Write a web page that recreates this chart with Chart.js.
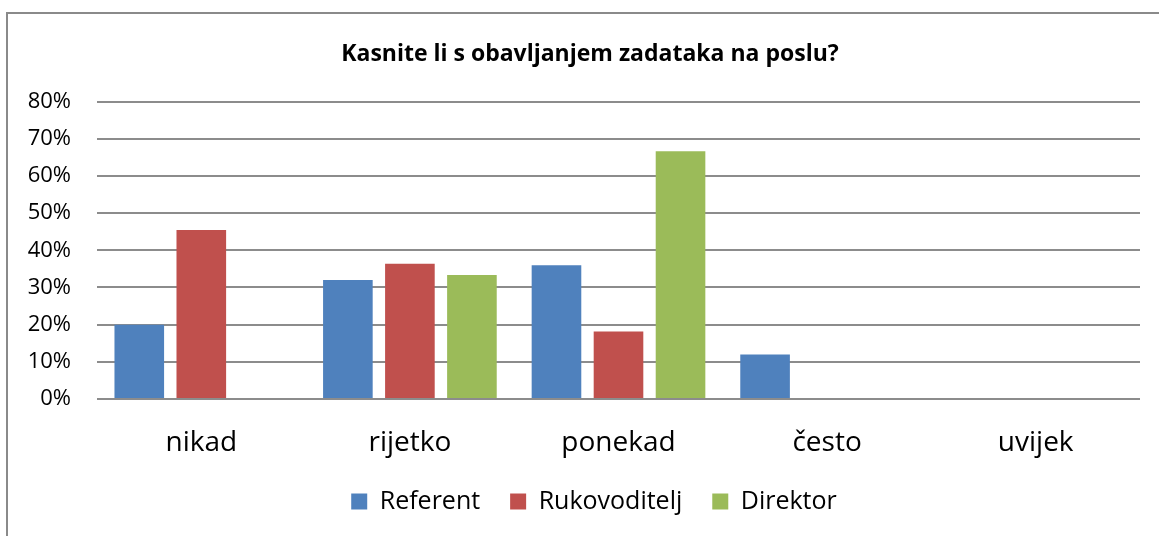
<!DOCTYPE html>
<html lang="hr">
<head>
    <meta charset="UTF-8">
    <title>Kasnite li s obavljanjem zadataka na poslu?</title>
    <style>
        body {
            margin: 0;
            padding: 0;
            background-color: #ffffff;
            overflow: hidden;
        }

        /* okvir grafikona kao u Excelu */
        .frame {
            position: absolute;
            left: 6px;
            top: 12px;
            width: 1200px;
            height: 600px;
            border: 2px solid #8a8a8a;
        }

        .chart-box {
            position: absolute;
            left: 0;
            top: 0;
            width: 1159px;
            height: 536px;
        }
    </style>
</head>
<body>

<div class="frame"></div>
<div class="chart-box">
    <canvas id="chart" width="1159" height="536"></canvas>
</div>

<script src="https://cdn.jsdelivr.net/npm/chart.js"></script>

<script>
    // Podaci očitani s grafikona (u postocima)
    const categories = ['nikad', 'rijetko', 'ponekad', 'često', 'uvijek'];
    const referent = [20, 32, 36, 12, 0];
    const rukovoditelj = [45.45, 36.36, 18.18, 0, 0];
    const direktor = [0, 33.33, 66.67, 0, 0];
    const seriesNames = ['Referent', 'Rukovoditelj', 'Direktor'];

    const font = "'Open Sans', sans-serif";

    // naslov i legenda u originalu nisu centrirani na cijelu širinu, malo su udesno
    const shiftBoxes = {
        id: 'shiftBoxes',
        afterLayout(chart) {
            chart.titleBlock.left += 20;
            chart.titleBlock.right += 20;
            chart.legend.left += 24;
            chart.legend.right += 24;
        }
    };

    const ctx = document.getElementById('chart').getContext('2d');
    const chart = new Chart(ctx, {
        type: 'bar',
        data: {
            labels: categories,
            datasets: [
                { label: seriesNames[0], data: referent, backgroundColor: '#4f81bd' },
                { label: seriesNames[1], data: rukovoditelj, backgroundColor: '#c0504d' },
                { label: seriesNames[2], data: direktor, backgroundColor: '#9bbb59' }
            ]
        },
        options: {
            responsive: false,
            devicePixelRatio: 1,
            animation: false,
            categoryPercentage: 0.892,
            barPercentage: 0.8,
            layout: {
                padding: { left: 0, right: 19, top: 0, bottom: 12 }
            },
            plugins: {
                title: {
                    display: true,
                    text: 'Kasnite li s obavljanjem zadataka na poslu?',
                    color: '#000',
                    font: { family: font, size: 23, weight: 'bold' },
                    padding: { top: 41, bottom: 33 }
                },
                legend: {
                    position: 'bottom',
                    labels: {
                        color: '#000',
                        boxWidth: 16,
                        boxHeight: 16,
                        padding: 30,
                        font: { family: font, size: 25 }
                    }
                },
                tooltip: { enabled: false }
            },
            scales: {
                y: {
                    min: 0,
                    max: 80,
                    ticks: {
                        stepSize: 10,
                        color: '#000',
                        padding: 26,
                        font: { family: font, size: 22 },
                        callback: v => v + '%'
                    },
                    grid: { color: '#8c8c8c', lineWidth: 2, drawTicks: false },
                    border: { display: false },
                    afterFit: s => { s.width = 97; }
                },
                x: {
                    ticks: {
                        color: '#000',
                        padding: 19,
                        font: { family: font, size: 28 }
                    },
                    grid: { display: false },
                    border: { display: false },
                    afterFit: s => { s.height = 60; }
                }
            }
        },
        plugins: [shiftBoxes]
    });
</script>

</body>
</html>
